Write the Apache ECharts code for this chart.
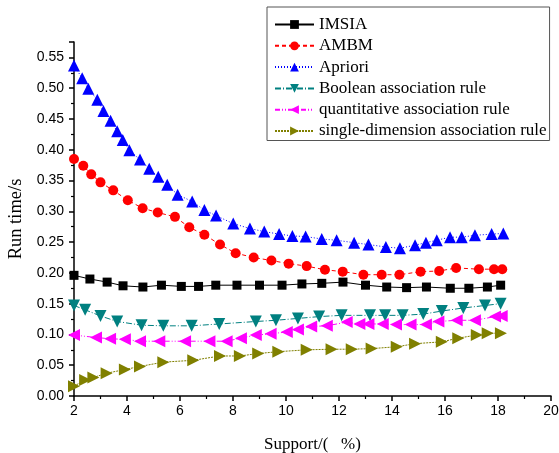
<!DOCTYPE html>
<html>
<head>
<meta charset="utf-8">
<script src="https://cdn.jsdelivr.net/npm/echarts@6/dist/echarts.min.js"></script>
<style>
  html, body { margin: 0; padding: 0; background: #fff; }
  #main { width: 559px; height: 453px; }
</style>
</head>
<body>
<div id="main"></div>
<script>
// 数据：每条曲线的 x（支持度）和 y（运行时间）
const imsiaX = [2.0, 2.6, 3.25, 3.85, 4.6, 5.3, 6.05, 6.7, 7.35, 8.15, 9.0, 9.85, 10.6, 11.35, 12.15, 13.0, 13.8, 14.55, 15.3, 16.2, 16.9, 17.6, 18.1];
const imsiaY = [0.196, 0.190, 0.185, 0.179, 0.177, 0.180, 0.178, 0.178, 0.180, 0.180, 0.180, 0.180, 0.182, 0.183, 0.185, 0.180, 0.177, 0.176, 0.177, 0.175, 0.175, 0.177, 0.180];

const ambmX = [2.0, 2.35, 2.65, 3.0, 3.48, 4.03, 4.59, 5.16, 5.81, 6.35, 6.92, 7.51, 8.1, 8.78, 9.45, 10.1, 10.78, 11.47, 12.14, 12.92, 13.61, 14.28, 15.08, 15.78, 16.42, 17.28, 17.85, 18.16];
const ambmY = [0.385, 0.374, 0.360, 0.347, 0.334, 0.318, 0.305, 0.298, 0.291, 0.274, 0.262, 0.246, 0.232, 0.225, 0.220, 0.215, 0.211, 0.205, 0.202, 0.197, 0.197, 0.197, 0.202, 0.203, 0.208, 0.206, 0.206, 0.206];

const aprioriX = [2.0, 2.31, 2.54, 2.88, 3.11, 3.38, 3.63, 3.84, 4.09, 4.49, 4.84, 5.18, 5.52, 5.91, 6.46, 6.92, 7.36, 8.01, 8.64, 9.18, 9.74, 10.24, 10.74, 11.35, 11.91, 12.57, 13.11, 13.77, 14.3, 14.87, 15.28, 15.69, 16.19, 16.63, 17.13, 17.76, 18.2];
const aprioriY = [0.537, 0.516, 0.499, 0.481, 0.463, 0.447, 0.430, 0.416, 0.399, 0.384, 0.369, 0.356, 0.343, 0.327, 0.316, 0.302, 0.293, 0.280, 0.272, 0.267, 0.263, 0.260, 0.259, 0.255, 0.253, 0.249, 0.246, 0.242, 0.240, 0.245, 0.249, 0.253, 0.258, 0.258, 0.261, 0.263, 0.264];

const booleanX = [2.0, 2.42, 3.0, 3.63, 4.55, 5.37, 6.44, 7.48, 8.86, 9.62, 10.45, 11.25, 12.1, 13.17, 13.74, 14.4, 15.18, 15.88, 16.69, 17.51, 18.1];
const booleanY = [0.147, 0.140, 0.130, 0.121, 0.115, 0.114, 0.114, 0.117, 0.121, 0.123, 0.126, 0.129, 0.131, 0.131, 0.131, 0.131, 0.133, 0.138, 0.143, 0.147, 0.150];

const quantX = [2.0, 2.83, 3.36, 3.92, 4.49, 5.22, 6.19, 7.11, 7.76, 8.3, 8.86, 9.42, 10.03, 10.45, 10.95, 11.54, 12.29, 12.77, 13.11, 13.65, 14.15, 14.7, 15.28, 15.75, 16.44, 17.13, 17.89, 18.14];
const quantY = [0.099, 0.095, 0.093, 0.092, 0.089, 0.089, 0.089, 0.089, 0.089, 0.094, 0.099, 0.101, 0.104, 0.108, 0.113, 0.114, 0.120, 0.117, 0.117, 0.117, 0.116, 0.116, 0.116, 0.121, 0.123, 0.123, 0.129, 0.130];

const singleX = [2.0, 2.42, 2.73, 3.23, 3.92, 4.49, 5.37, 6.5, 7.51, 8.26, 8.95, 9.71, 10.78, 11.72, 12.48, 13.23, 14.18, 14.87, 15.88, 16.5, 17.2, 17.61, 18.11];
const singleY = [0.016, 0.026, 0.030, 0.037, 0.043, 0.048, 0.055, 0.058, 0.065, 0.065, 0.069, 0.072, 0.075, 0.076, 0.076, 0.077, 0.080, 0.085, 0.088, 0.094, 0.099, 0.102, 0.102];

const seriesNames = ['IMSIA', 'AMBM', 'Apriori', 'Boolean association rule', 'quantitative association rule', 'single-dimension association rule'];

const zip = (xs, ys) => xs.map((x, i) => [x, ys[i]]);

const chartDom = document.getElementById('main');
const myChart = echarts.init(chartDom, null, { renderer: 'canvas' });

const serif = 'Liberation Serif';
const sans = 'Liberation Sans';

// 每条曲线的样式
const styles = [
  { data: zip(imsiaX, imsiaY), color: '#000000', type: 'solid', symbol: 'rect', rotate: 0, size: 9 },
  { data: zip(ambmX, ambmY), color: '#ff0000', type: [4, 3], symbol: 'circle', rotate: 0, size: 10 },
  { data: zip(aprioriX, aprioriY), color: '#0000ff', type: [1, 2], symbol: 'triangle', rotate: 0, size: 12 },
  { data: zip(booleanX, booleanY), color: '#008080', type: [6, 2, 1, 2], symbol: 'triangle', rotate: 180, size: 12 },
  { data: zip(quantX, quantY), color: '#ff00ff', type: [5, 2, 1, 2, 1, 2], symbol: 'triangle', rotate: 90, size: 12 },
  { data: zip(singleX, singleY), color: '#808000', type: [2, 1], symbol: 'triangle', rotate: -90, size: 12 }
];

const option = {
  animation: false,
  backgroundColor: '#ffffff',
  grid: { left: 74, right: 8, top: 42, bottom: 57, containLabel: false, outerBoundsMode: 'none' },
  legend: {
    orient: 'vertical',
    left: 267,
    top: 7,
    padding: [9, 3, 1, 7],
    borderColor: '#555',
    borderWidth: 1,
    itemWidth: 39,
    itemHeight: 11,
    itemGap: 4.3,
    textStyle: { fontFamily: serif, fontSize: 17, color: '#000', lineHeight: 17 },
    data: seriesNames
  },
  xAxis: {
    type: 'value',
    min: 2,
    max: 20,
    interval: 2,
    name: 'Support/(   %)',
    nameLocation: 'middle',
    nameGap: 40,
    nameTextStyle: { fontFamily: serif, fontSize: 17, color: '#000' },
    axisLine: { onZero: false, lineStyle: { color: '#000', width: 1.5 } },
    axisTick: { length: 5, lineStyle: { color: '#000', width: 1.5 } },
    minorTick: { show: true, splitNumber: 2, length: 3, lineStyle: { color: '#000', width: 1.2 } },
    axisLabel: { fontFamily: sans, fontSize: 14, color: '#000', margin: 8 },
    splitLine: { show: false }
  },
  yAxis: {
    type: 'value',
    min: 0,
    max: 0.575,
    interval: 0.05,
    name: 'Run time/s',
    nameLocation: 'middle',
    nameGap: 45,
    nameTextStyle: { fontFamily: serif, fontSize: 18.5, color: '#000' },
    axisLine: { show: true, onZero: false, lineStyle: { color: '#000', width: 1.5 } },
    axisTick: { show: true, length: 5, lineStyle: { color: '#000', width: 1.5 } },
    minorTick: { show: true, splitNumber: 2, length: 3, lineStyle: { color: '#000', width: 1.2 } },
    axisLabel: {
      fontFamily: sans, fontSize: 14, color: '#000', margin: 10, showMaxLabel: false,
      formatter: v => v.toFixed(2)
    },
    splitLine: { show: false }
  },
  series: styles.map((s, i) => ({
    name: seriesNames[i],
    type: 'line',
    data: s.data,
    symbol: s.symbol,
    symbolSize: s.size,
    symbolRotate: s.rotate,
    itemStyle: { color: s.color },
    lineStyle: { color: s.color, width: 1, type: s.type }
  }))
};

option && myChart.setOption(option);
</script>
</body>
</html>
